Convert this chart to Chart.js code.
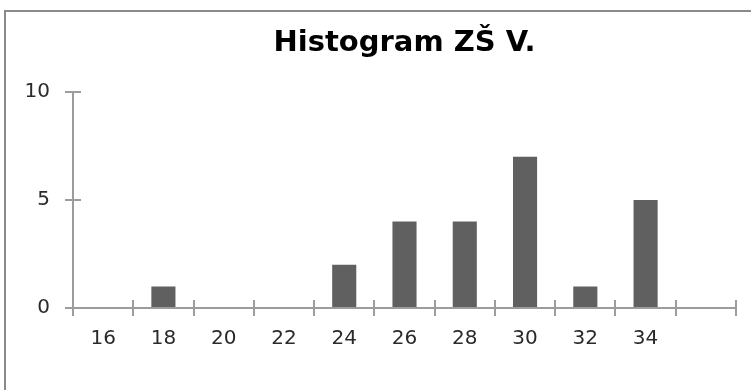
<!DOCTYPE html>
<html>
<head>
<meta charset="utf-8">
<title>Histogram ZŠ V.</title>
<script src="https://cdn.jsdelivr.net/npm/chart.js@4"></script>
<style>
  html, body { margin: 0; padding: 0; background: #ffffff; overflow: hidden; }
  #wrap { width: 751px; height: 390px; position: relative; }
  canvas { display: block; }
</style>
</head>
<body>
<div id="wrap"><canvas id="chart" width="751" height="390"></canvas></div>
<script>
// Bin labels (upper bin edges); the last bin has no label
const categories = ['16', '18', '20', '22', '24', '26', '28', '30', '32', '34', ''];
// Frequency per bin
const frequencies = [0, 1, 0, 0, 2, 4, 4, 7, 1, 5, 0];
// Value axis ticks
const yTicks = [0, 5, 10];
const chartTitle = 'Histogram ZŠ V.';

const AXIS_COLOR = '#9c9c9c';
const TICK_HALF = 8;

// Outer frame around the chart and the inner half of the cross tick marks
const frameAndTicks = {
  id: 'frameAndTicks',
  beforeDraw(chart) {
    const ctx = chart.ctx;
    ctx.save();
    ctx.fillStyle = '#ffffff';
    ctx.fillRect(0, 0, chart.width, chart.height);
    ctx.fillStyle = '#8a8a8a';
    ctx.fillRect(4, 10, 2, chart.height - 10);
    ctx.fillRect(4, 10, chart.width - 4, 2);
    ctx.restore();
  },
  afterDraw(chart) {
    const ctx = chart.ctx;
    const x = chart.scales.x;
    const y = chart.scales.y;
    ctx.save();
    ctx.strokeStyle = AXIS_COLOR;
    ctx.lineWidth = 2;
    ctx.beginPath();
    for (let i = 0; i <= categories.length; i++) {
      const px = Math.round(x.getPixelForValue(i - 0.5));
      ctx.moveTo(px, y.bottom);
      ctx.lineTo(px, y.bottom - TICK_HALF);
    }
    yTicks.forEach(v => {
      const py = Math.round(y.getPixelForValue(v));
      ctx.moveTo(x.left, py);
      ctx.lineTo(x.left + TICK_HALF, py);
    });
    ctx.stroke();
    ctx.restore();
  }
};

new Chart(document.getElementById('chart'), {
  type: 'bar',
  data: {
    labels: categories,
    datasets: [{
      data: frequencies,
      backgroundColor: '#606060',
      borderWidth: 0,
      barPercentage: 0.4,
      categoryPercentage: 1.0
    }]
  },
  plugins: [frameAndTicks],
  options: {
    responsive: false,
    animation: false,
    devicePixelRatio: 1,
    layout: { padding: { left: 0, right: 15, top: 0, bottom: 0 } },
    plugins: {
      legend: { display: false },
      tooltip: { enabled: false },
      title: {
        display: true,
        text: chartTitle,
        fullSize: false,
        color: '#000000',
        font: { family: 'DejaVu Sans', size: 29, weight: 'bold', lineHeight: 1.2 },
        padding: { top: 26, bottom: 31 }
      }
    },
    scales: {
      x: {
        offset: true,
        grid: {
          display: true,
          offset: true,
          drawOnChartArea: false,
          drawTicks: true,
          tickLength: TICK_HALF,
          color: AXIS_COLOR,
          lineWidth: 2
        },
        border: { display: true, color: AXIS_COLOR, width: 2 },
        ticks: {
          color: '#2a2a2a',
          font: { family: 'DejaVu Sans', size: 20 },
          padding: 11,
          maxRotation: 0,
          autoSkip: false
        },
        afterFit(scale) { scale.height = 82; }
      },
      y: {
        min: 0,
        max: 10,
        afterBuildTicks(scale) { scale.ticks = yTicks.map(v => ({ value: v })); },
        grid: {
          display: true,
          drawOnChartArea: false,
          drawTicks: true,
          tickLength: TICK_HALF,
          color: AXIS_COLOR,
          lineWidth: 2
        },
        border: { display: true, color: AXIS_COLOR, width: 2 },
        ticks: {
          color: '#2a2a2a',
          font: { family: 'DejaVu Sans', size: 20 },
          padding: 15
        },
        afterFit(scale) { scale.width = 73; }
      }
    }
  }
});
</script>
</body>
</html>
